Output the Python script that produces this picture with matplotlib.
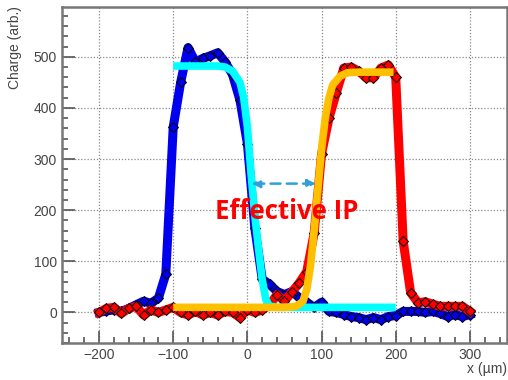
import numpy as np
import matplotlib
matplotlib.use("Agg")
import matplotlib.pyplot as plt
from matplotlib.ticker import MultipleLocator

plt.rcParams['font.family'] = ['Liberation Sans', 'DejaVu Sans']

# scan positions (um)
x_scan = list(range(-200, 301, 10))

# charge, first scan (blue)
q_blue = [0, 3, 5, 2, 8, 15, 22, 18, 28, 75,
          363, 450, 518, 490, 497, 502, 508, 490, 465, 415,
          330, 165, 65, 55, 41, 35, 41, 29, 20, 10,
          20, 2, 0, -4, -8, -10, -14, -10, -14, -8,
          -6, 2, 2, 2, 0, 2, -2, -8, -4, -8, -4]

# charge, second scan (red)
q_red = [0, 8, 10, -2, 8, 12, -5, 5, 0, 5,
         10, 0, -5, 2, -5, 0, -5, 2, 0, -10,
         5, 0, 5, 15, 35, 22, 40, 58, 80, 155,
         310, 380, 430, 478, 480, 472, 459, 459, 478, 484,
         460, 140, 39, 19, 21, 16, 12, 12, 12, 12, 2]

# fit curves
fit1_x = [-100, -40, -30, -20, -10, -5, 0, 5, 10, 15, 20, 25, 30, 40, 200]
fit1_y = [482, 482, 480, 472, 450, 420, 363, 270, 190, 125, 64, 25, 13, 10, 10]
fit2_x = [-100, 50, 60, 67, 75, 80, 85, 90, 95, 100, 105, 110, 115, 125, 135, 150, 197]
fit2_y = [10, 10, 11, 13, 22, 45, 90, 160, 240, 320, 380, 420, 445, 462, 469, 470, 470]

fig = plt.figure(figsize=(5.08, 3.80), dpi=100)
ax = fig.add_axes([0.122, 0.097, 0.876, 0.884])

ax.plot(x_scan, q_blue, color="#0000ee", lw=6.5, marker="D", ms=4.8,
        mfc="#0000ee", mec="black", mew=0.7, zorder=3)
ax.plot(x_scan, q_red, color="#ff0000", lw=6.5, marker="D", ms=4.8,
        mfc="#ff0000", mec="black", mew=0.7, zorder=4)
ax.plot(fit1_x, fit1_y, color="#00ffff", lw=5.5, zorder=5, solid_capstyle="butt")
ax.plot(fit2_x, fit2_y, color="#ffc000", lw=5.5, zorder=6, solid_capstyle="butt")

# effective IP arrow
ax.annotate("", xy=(2, 252), xytext=(96, 252),
            arrowprops=dict(arrowstyle="<|-|>", color="#2fa0dc", lw=1.8,
                            linestyle=(0, (4, 2.5)), mutation_scale=12),
            zorder=7)
ax.text(53, 198, "Effective IP", color="#ff0000", fontsize=18.5,
        fontweight="bold", family="Open Sans", ha="center", va="center", zorder=8)

ax.set_xlim(-250, 350)
ax.set_ylim(-60, 597)
ax.xaxis.set_major_locator(MultipleLocator(100))
ax.xaxis.set_minor_locator(MultipleLocator(20))
ax.yaxis.set_major_locator(MultipleLocator(100))
ax.yaxis.set_minor_locator(MultipleLocator(20))
ax.tick_params(which="both", direction="in", top=False, right=False,
               labelsize=10, labelcolor="#444444", color="#555555")
ax.tick_params(which="major", length=9, width=1.2)
ax.tick_params(which="minor", length=4.5, width=1.2)
ax.grid(True, which="major", linestyle=(0, (1, 1.5)), color="#888888", lw=0.9)
for s in ax.spines.values():
    s.set_color("#777777")
    s.set_linewidth(1.8)

fig.text(0.998, 0.01, "x (\u00b5m)", ha="right", va="bottom", fontsize=10,
         color="#444444")
fig.text(0.03, 0.985, "Charge (arb.)", rotation=90, ha="center", va="top",
         fontsize=10, color="#444444")

fig.savefig("out.png", dpi=100)
